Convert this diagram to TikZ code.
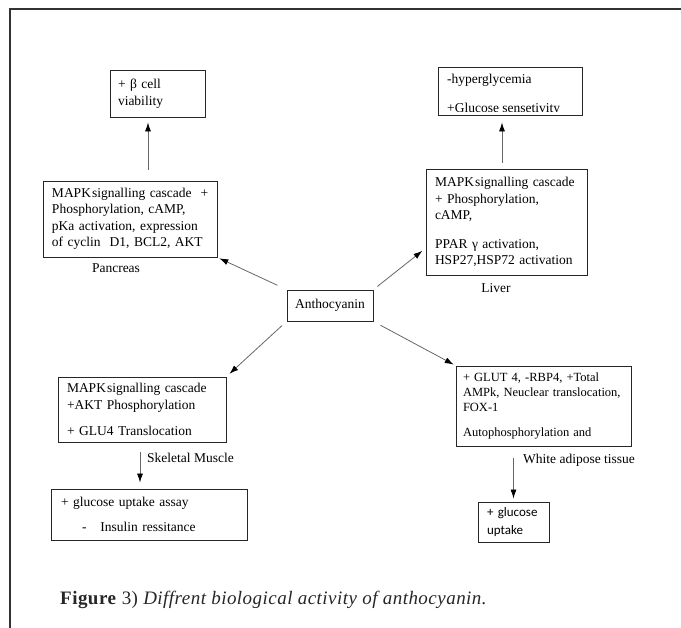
\documentclass[tikz,border=0pt]{standalone}
\usepackage{fontspec}
\setmainfont{Liberation Serif}
\newfontfamily\carlfont{Carlito}
\usetikzlibrary{arrows.meta}
\begin{document}
\begin{tikzpicture}[x=1pt,y=-1pt,
  box/.style={draw=black!85, line width=0.9pt, inner xsep=9pt, inner ysep=0pt,
    align=left, font=\fontsize{13.5}{16.5}\selectfont},
  lbl/.style={inner sep=0pt, font=\fontsize{13.5}{16.5}\selectfont},
  arr/.style={draw=black!60, line width=0.8pt,
    -{Latex[length=9pt,width=6pt,color=black]}}
]
\useasboundingbox (0,0) rectangle (681,628);
% frame
\draw[line width=1.2pt, black!80] (681,9) -- (10,9) -- (10,628);

% nodes
\node[box, minimum width=86pt, minimum height=31pt, inner xsep=0pt, align=center] (antho) at (330,305.5) {Anthocyanin};

\node[box, text width=156pt, minimum height=76pt] (panc) at (130,219)
  {\mbox{MAPK\kern1pt signalling cascade \ +}\\Phosphorylation, cAMP,\\pKa activation, expression\\of cyclin \ D1, BCL2, AKT};
\node[box, text width=79pt, inner xsep=8pt, minimum height=47pt, font=\fontsize{13.5}{17}\selectfont] (beta) at (157.5,93.5)
  {+ β cell\\viability\\[6pt]};

% liver top box with clipped text
\begin{scope}
  \clip (438,67) rectangle (582,112);
  \node[anchor=base west, inner sep=0pt, align=left, font=\fontsize{13.5}{16.5}\selectfont] (ltoptxt) at (447,112.5)
    {-hyperglycemia\\[12.5pt]+Glucose sensetivity};
\end{scope}
\node[draw=black!85, line width=0.9pt, minimum width=144pt, minimum height=48pt, inner sep=0pt] (ltop) at (510,91) {};
\node[box, text width=143pt, minimum height=106pt] (liver) at (506.5,222)
  {MAPK\kern1pt signalling cascade\\+ Phosphorylation,\\cAMP,\\[12pt]PPAR γ activation,\\HSP27,HSP72 activation};

\node[box, text width=150pt, minimum height=65pt] (musc) at (142,409.5)
  {MAPK\kern1pt signalling cascade\\+AKT Phosphorylation\\[10pt]+ GLU4 Translocation};
\node[box, text width=176pt, inner xsep=10pt, minimum height=51pt] (assay) at (149,514.5)
  {+ glucose uptake assay\\[9pt]\hspace*{21pt}-\hspace{14pt}Insulin ressitance};

\node[box, text width=161pt, inner xsep=7pt, minimum height=80pt, font=\fontsize{12.5}{15}\selectfont] (wat) at (543.5,406)
  {+ GLUT 4, -RBP4, +Total\\AMPk, Neuclear translocation,\\FOX-1\\[10pt]Autophosphorylation and};
\node[box, text width=53pt, minimum height=40pt, font=\carlfont\fontsize{13}{18}\selectfont] (upt) at (513.5,522)
  {+ glucose\\uptake};

% labels
\node[lbl] (lpanc) at (116,268) {Pancreas};
\node[lbl] (lliver) at (496,288) {Liver};
\node[lbl, anchor=west] (lmusc) at (147,458) {Skeletal Muscle};
\node[lbl, anchor=west] (lwat) at (523,460) {White adipose tissue};

% connectors
\draw[arr, shorten <=10pt, shorten >=2pt] (antho.north west) -- (panc.south east);
\draw[arr, shorten <=5pt, shorten >=4pt] (antho.north east) -- (liver.198);
\draw[arr, shorten <=6pt, shorten >=4pt] (antho.south west) -- (musc.north east);
\draw[arr, shorten <=8pt, shorten >=2pt] (antho.south east) -- (wat.north west);

\draw[arr, shorten <=11pt, shorten >=5pt] ([xshift=18pt]panc.north) -- ([xshift=-9.5pt]beta.south);
\draw[arr, shorten <=6pt, shorten >=7pt] ([xshift=-4.5pt]liver.north) -- ([xshift=-8pt]ltop.south);
\draw[arr, shorten <=10pt, shorten >=6pt] ([xshift=-2pt]musc.south) -- ([xshift=-9pt]assay.north);
\draw[arr, shorten <=12pt, shorten >=3pt] (wat.south -| upt.north) -- (upt.north);

% caption
\node[anchor=base west, inner sep=0pt, text=black!85, font=\addfontfeatures{LetterSpace=2.5}\fontsize{19}{21}\selectfont] (cap) at (60,605)
  {\textbf{Figure} 3) \textit{Diffrent biological activity of anthocyanin.}};
\end{tikzpicture}
\end{document}
